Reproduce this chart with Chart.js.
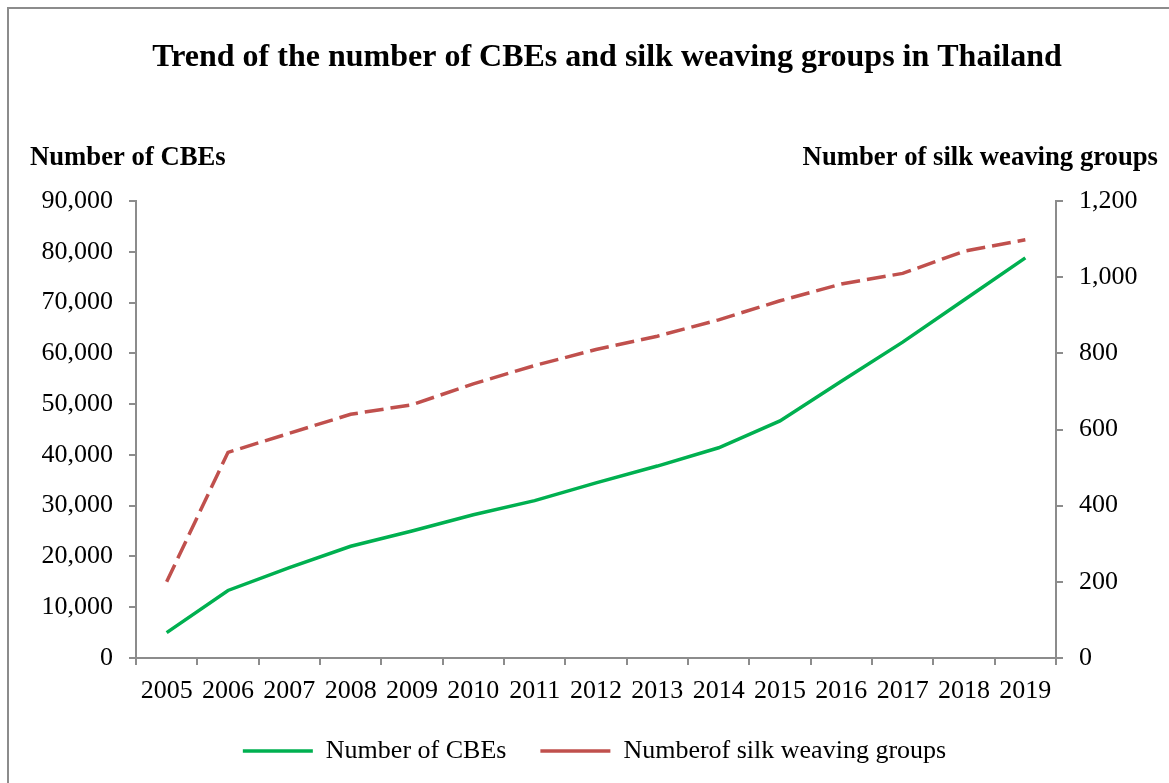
<!DOCTYPE html>
<html>
<head>
<meta charset="utf-8">
<script src="https://cdn.jsdelivr.net/npm/chart.js@4"></script>
<style>
  body { margin: 0; background: #fff; overflow: hidden; }
  #wrap { position: relative; width: 1169px; height: 783px; }
  #frame { position: absolute; left: 7px; top: 7px; width: 1200px; height: 800px; border: 2px solid #8c8c8c; box-sizing: border-box; }
</style>
</head>
<body>
<div id="wrap">
  <div id="frame"></div>
  <canvas id="lineChart"></canvas>
</div>
<script>
// years on the category axis
const years = ["2005","2006","2007","2008","2009","2010","2011","2012","2013","2014","2015","2016","2017","2018","2019"];
// number of CBEs (left axis)
const cbeCount = [5000, 13300, 17800, 22000, 25000, 28200, 31000, 34500, 37800, 41400, 46700, 54500, 62200, 70500, 78800];
// number of silk weaving groups (right axis)
const silkGroups = [200, 540, 590, 640, 665, 720, 768, 810, 845, 888, 938, 982, 1010, 1068, 1098];

const serif = '"Liberation Serif", "Times New Roman", serif';
const axisGray = "#8c8c8c";

// headings drawn straight onto the canvas
const headings = {
  id: "headings",
  afterDraw(chart) {
    const ctx = chart.ctx;
    ctx.save();
    ctx.fillStyle = "#000";
    ctx.textBaseline = "middle";
    ctx.font = "bold 32px " + serif;
    ctx.textAlign = "center";
    ctx.fillText("Trend of the number of CBEs and silk weaving groups in Thailand", 607, 58);
    ctx.font = "bold 26.7px " + serif;
    ctx.textAlign = "left";
    ctx.fillText("Number of CBEs", 30, 158);
    ctx.textAlign = "right";
    ctx.fillText("Number of silk weaving groups", 1158, 158);
    ctx.restore();
  }
};

new Chart(document.getElementById("lineChart"), {
  type: "line",
  data: {
    labels: years,
    datasets: [
      {
        label: "Number of CBEs",
        data: cbeCount,
        yAxisID: "y",
        borderColor: "#00b050",
        backgroundColor: "#00b050",
        borderWidth: 3.5,
        pointRadius: 0,
        tension: 0
      },
      {
        label: "Numberof silk weaving groups",
        data: silkGroups,
        yAxisID: "y1",
        borderColor: "#c0504d",
        backgroundColor: "#c0504d",
        borderWidth: 3.5,
        borderDash: [19, 7],
        pointRadius: 0,
        tension: 0
      }
    ]
  },
  options: {
    responsive: true,
    maintainAspectRatio: false,
    animation: false,
    layout: { padding: { left: 20, right: 0, top: 201, bottom: 9 } },
    plugins: {
      tooltip: { enabled: false },
      title: { display: false },
      legend: {
        position: "bottom",
        labels: {
          usePointStyle: true,
          pointStyle: "line",
          pointStyleWidth: 70,
          boxHeight: 26,
          padding: 34,
          color: "#000",
          font: { family: serif, size: 26 }
        }
      }
    },
    scales: {
      x: {
        offset: true,
        afterFit: s => { s.height = 46; },
        grid: { offset: true, drawOnChartArea: false, tickLength: 7, color: axisGray, lineWidth: 2 },
        border: { color: axisGray, width: 2 },
        ticks: { color: "#000", padding: 11, maxRotation: 0, font: { family: serif, size: 26 } }
      },
      y: {
        position: "left",
        min: 0,
        max: 90000,
        afterFit: s => { s.width = 116; },
        grid: { drawOnChartArea: false, tickLength: 7, color: axisGray, lineWidth: 2 },
        border: { color: axisGray, width: 2 },
        ticks: {
          stepSize: 10000,
          padding: 16,
          color: "#000",
          font: { family: serif, size: 26 },
          callback: v => v.toLocaleString("en-US")
        }
      },
      y1: {
        position: "right",
        min: 0,
        max: 1200,
        afterFit: s => { s.width = 113; },
        grid: { drawOnChartArea: false, tickLength: 7, color: axisGray, lineWidth: 2 },
        border: { color: axisGray, width: 2 },
        ticks: {
          stepSize: 200,
          padding: 16,
          color: "#000",
          font: { family: serif, size: 26 },
          callback: v => v.toLocaleString("en-US")
        }
      }
    }
  },
  plugins: [headings]
});
</script>
</body>
</html>
